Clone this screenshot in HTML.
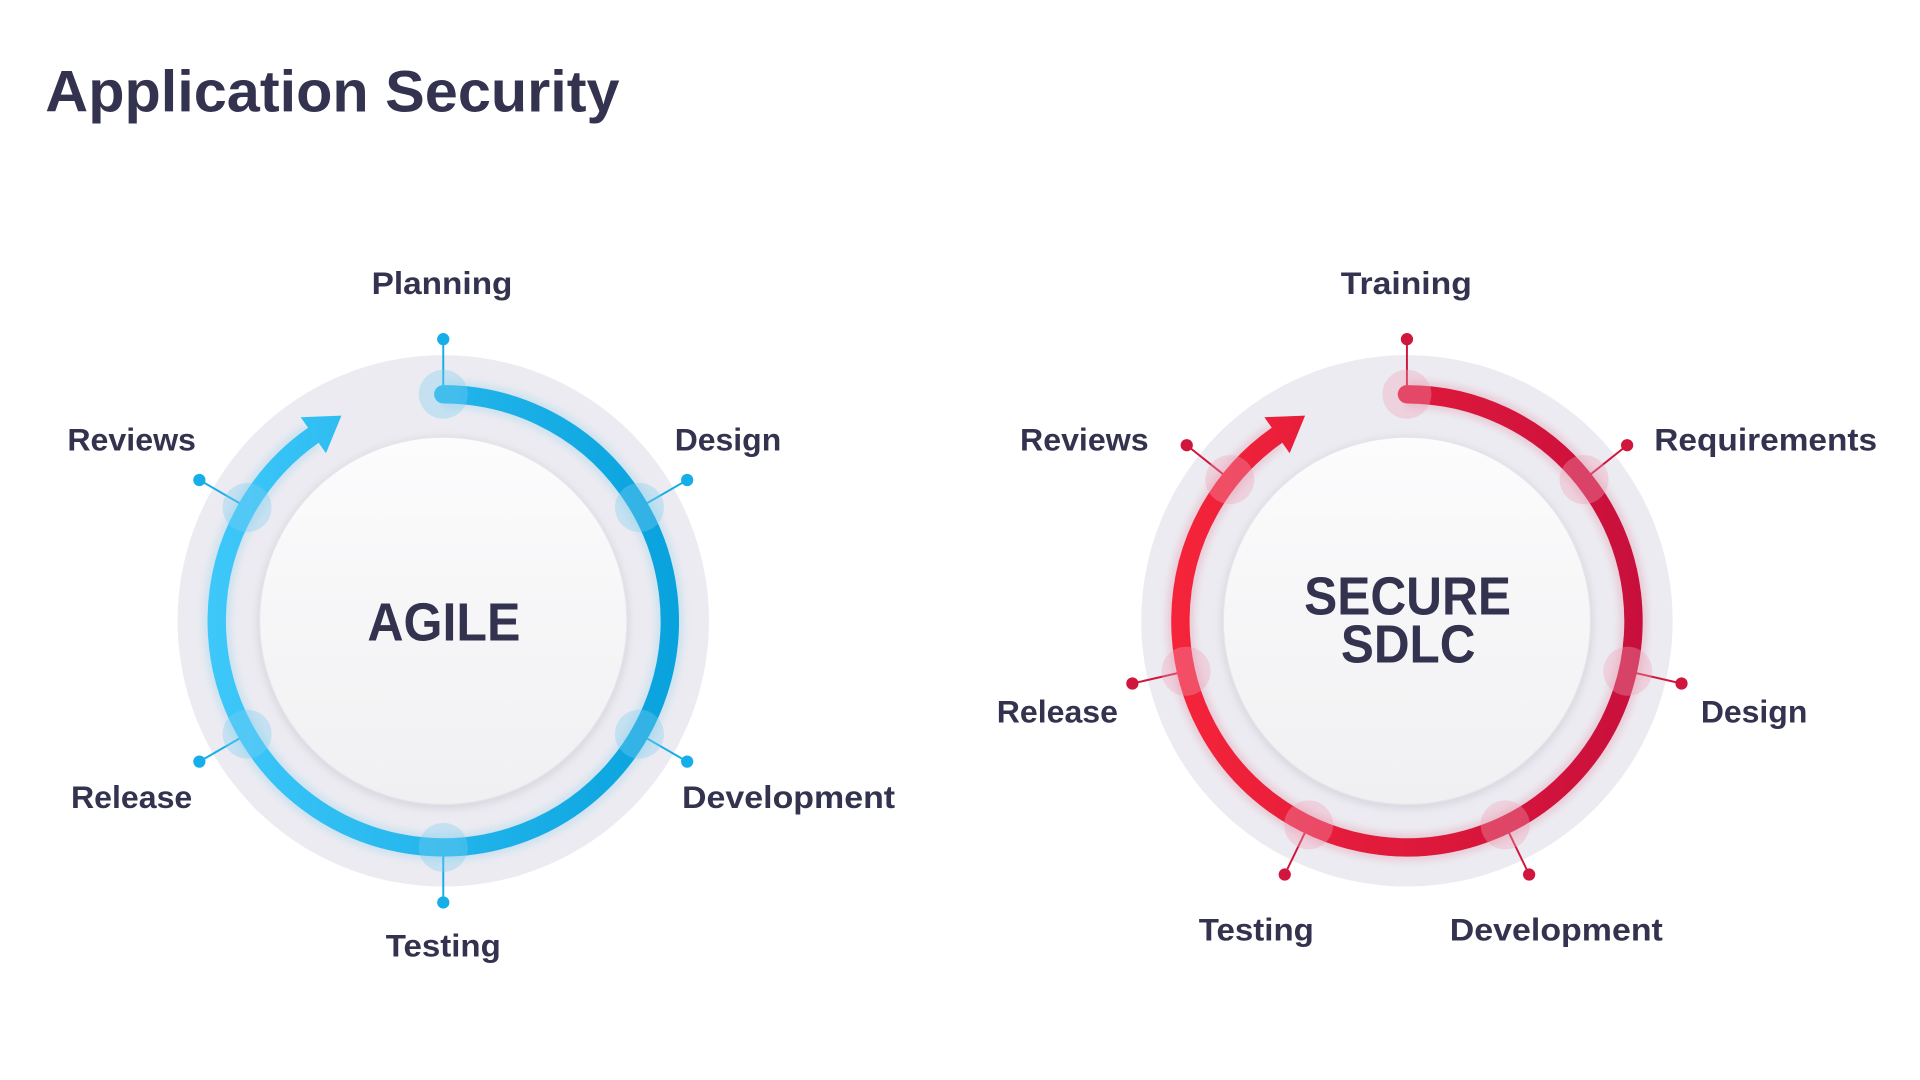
<!DOCTYPE html>
<html><head><meta charset="utf-8"><style>
html,body{margin:0;padding:0;background:#fff;}
svg{display:block}
text{font-family:"Liberation Sans",sans-serif;font-weight:bold;fill:#34334f}
</style></head><body>
<svg id="s" width="1920" height="1080" viewBox="0 0 1568 882" xmlns="http://www.w3.org/2000/svg">
<defs>
<linearGradient id="gb" gradientUnits="userSpaceOnUse" x1="170" y1="0" x2="553" y2="0"><stop offset="0" stop-color="#3ec8fa"/><stop offset="1" stop-color="#08a2dd"/></linearGradient>
<linearGradient id="gr" gradientUnits="userSpaceOnUse" x1="957" y1="0" x2="1340" y2="0"><stop offset="0" stop-color="#f5243a"/><stop offset="1" stop-color="#c80f3c"/></linearGradient>
<linearGradient id="gw" x1="0" y1="0" x2="0" y2="1"><stop offset="0" stop-color="#fcfcfd"/><stop offset="1" stop-color="#f0f0f2"/></linearGradient>
<filter id="sh" x="-20%" y="-20%" width="140%" height="140%"><feGaussianBlur stdDeviation="3"/></filter>
</defs>
<text x="37" y="91" font-size="48" textLength="469" lengthAdjust="spacingAndGlyphs">Application Security</text>
<g id="g"></g>
<g font-size="26">
<text x="361" y="240" text-anchor="middle" textLength="115" lengthAdjust="spacingAndGlyphs">Planning</text>
<text x="551" y="368" textLength="87" lengthAdjust="spacingAndGlyphs">Design</text>
<text x="557" y="660" textLength="174" lengthAdjust="spacingAndGlyphs">Development</text>
<text x="362" y="781" text-anchor="middle" textLength="94" lengthAdjust="spacingAndGlyphs">Testing</text>
<text x="58" y="660" textLength="99" lengthAdjust="spacingAndGlyphs">Release</text>
<text x="55" y="368" textLength="105" lengthAdjust="spacingAndGlyphs">Reviews</text>
<text x="1095" y="240" textLength="107" lengthAdjust="spacingAndGlyphs">Training</text>
<text x="1351" y="368" textLength="182" lengthAdjust="spacingAndGlyphs">Requirements</text>
<text x="1389" y="590" textLength="87" lengthAdjust="spacingAndGlyphs">Design</text>
<text x="1184" y="768" textLength="174" lengthAdjust="spacingAndGlyphs">Development</text>
<text x="979" y="768" textLength="94" lengthAdjust="spacingAndGlyphs">Testing</text>
<text x="814" y="590" textLength="99" lengthAdjust="spacingAndGlyphs">Release</text>
<text x="833" y="368" textLength="105" lengthAdjust="spacingAndGlyphs">Reviews</text>
</g>
<g font-size="44">
<text x="300" y="523" textLength="125" lengthAdjust="spacingAndGlyphs">AGILE</text>
<text x="1065" y="502" textLength="169" lengthAdjust="spacingAndGlyphs">SECURE</text>
<text x="1095" y="541" textLength="110" lengthAdjust="spacingAndGlyphs">SDLC</text>
</g>
</svg>
<script>
var NS="http://www.w3.org/2000/svg",g=document.getElementById("g");
function el(t,a){var e=document.createElementNS(NS,t);for(var k in a)e.setAttribute(k,a[k]);g.appendChild(e);return e;}
function draw(cx,cy,grad,col,halo,angs){
 el("circle",{cx:cx,cy:cy,r:217,fill:"#ecebf1"});
 el("circle",{cx:cx,cy:cy+2,r:152,fill:"#d8d8e0",filter:"url(#sh)"});
 el("circle",{cx:cx,cy:cy,r:150,fill:"url(#gw)",stroke:"#e4e4ea","stroke-width":1});
 var R=185,D=230;
 angs.forEach(function(a){var r=a*Math.PI/180,c=Math.cos(r),s=Math.sin(r);
  el("line",{x1:cx+c*R,y1:cy+s*R,x2:cx+c*D,y2:cy+s*D,stroke:col,"stroke-width":1.6});
  el("circle",{cx:cx+c*D,cy:cy+s*D,r:5,fill:col});
 });
 var e=235*Math.PI/180,ex=cx+Math.cos(e)*R,ey=cy+Math.sin(e)*R;
 el("path",{d:"M"+cx+" "+(cy-R)+" A"+R+" "+R+" 0 1 1 "+ex+" "+ey,fill:"none",stroke:col,"stroke-width":22,opacity:0.15,filter:"url(#sh)"});
 el("path",{d:"M"+cx+" "+(cy-R)+" A"+R+" "+R+" 0 1 1 "+ex+" "+ey,fill:"none",stroke:"url(#"+grad+")","stroke-width":15,"stroke-linecap":"round"});
 var dx=-Math.sin(e),dy=Math.cos(e),px=-dy,py=dx;
 var tx=ex+dx*28,ty=ey+dy*28;
 el("path",{d:"M"+tx+" "+ty+" L"+(ex-px*18)+" "+(ey-py*18)+" L"+(ex+px*18)+" "+(ey+py*18)+"Z",fill:"url(#"+grad+")"});
 angs.forEach(function(a){var r=a*Math.PI/180;
  el("circle",{cx:cx+Math.cos(r)*R,cy:cy+Math.sin(r)*R,r:20,fill:halo,opacity:0.35});
 });
}
draw(362,507,"gb","#15aee8","#7fcdf0",[-90,-30,30,90,150,210]);
var a=[];for(var i=0;i<7;i++)a.push(-90+i*360/7);
draw(1149,507,"gr","#d0163c","#f0a0b8",a);
</script>
</body></html>
